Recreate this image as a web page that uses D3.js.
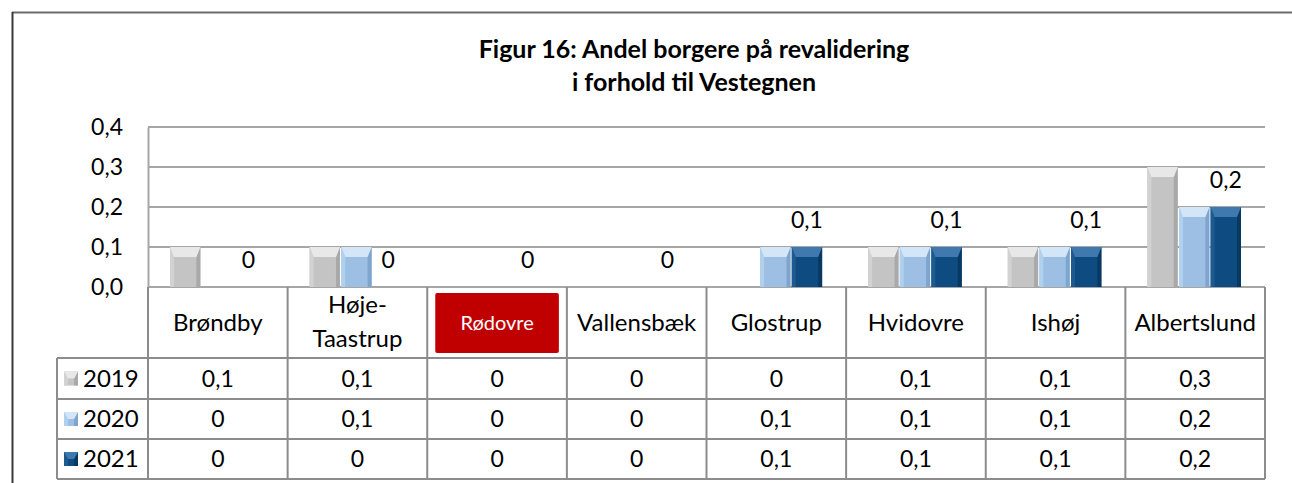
<!DOCTYPE html>
<html>
<head>
<meta charset="utf-8">
<script src="https://cdn.jsdelivr.net/npm/d3@7"></script>
<style>
  body { margin: 0; background: #fff; }
  text { font-family: Lato, "Liberation Sans", Arial, sans-serif; fill: #000; }
</style>
</head>
<body>
<svg id="chart" width="1292" height="483"></svg>
<script>
// data
var categories = ["Brøndby", "Høje-Taastrup", "Rødovre", "Vallensbæk", "Glostrup", "Hvidovre", "Ishøj", "Albertslund"];
var years = ["2019", "2020", "2021"];
var values2019 = [0.1, 0.1, 0, 0, 0, 0.1, 0.1, 0.3];
var values2020 = [0, 0.1, 0, 0, 0.1, 0.1, 0.1, 0.2];
var values2021 = [0, 0, 0, 0, 0.1, 0.1, 0.1, 0.2];
var yTicks = [0, 0.1, 0.2, 0.3, 0.4];
var titleLines = ["Figur 16: Andel borgere på revalidering", "i forhold til Vestegnen"];
var highlight = "Rødovre";

var series = [values2019, values2020, values2021];

// colours for each year: base, top, left, right
var barColors = [
    { base: "#c4c4c4", top: "#e8e8e8", left: "#d2d2d2", right: "#a9a9a9" },
    { base: "#9cbfe3", top: "#d3e6f7", left: "#b1d0ee", right: "#7fa5cf" },
    { base: "#0e4b80", top: "#4079ae", left: "#1c5a90", right: "#083963" }
];

var daLocale = d3.formatLocale({ decimal: ",", thousands: ".", grouping: [3], currency: ["", " kr."] });
var fmt1 = daLocale.format(".1f");
function fmtVal(v) { return v === 0 ? "0" : fmt1(v); }

var svg = d3.select("#chart");

// plot area
var plotLeft = 148, plotRight = 1265, plotTop = 127, plotBottom = 287;
var rowLines = [358, 399, 439, 479];
var legendLeft = 57;

var x0 = d3.scaleBand().domain(categories).range([plotLeft, plotRight]);
var x1 = d3.scaleBand().domain(years).range([22, x0.bandwidth() - 24]).paddingInner(0.04);
var y = d3.scaleLinear().domain([0, 0.4]).range([plotBottom, plotTop]);

// outer frame
svg.append("line").attr("x1", 12).attr("x2", 1292).attr("y1", 12.5).attr("y2", 12.5)
    .attr("stroke", "#6b6b6b").attr("stroke-width", 2);
svg.append("line").attr("x1", 12.5).attr("x2", 12.5).attr("y1", 12).attr("y2", 483)
    .attr("stroke", "#3a3a3a").attr("stroke-width", 2);

// title
svg.append("g").selectAll("text")
    .data(titleLines)
    .enter().append("text")
    .attr("x", 694)
    .attr("y", function(d, i) { return 58 + i * 33; })
    .attr("text-anchor", "middle")
    .style("font-weight", "bold")
    .style("font-size", "25px")
    .text(function(d) { return d; });

// gridlines
svg.append("g").selectAll("line")
    .data(yTicks)
    .enter().append("line")
    .attr("x1", plotLeft).attr("x2", plotRight)
    .attr("y1", function(d) { return y(d); })
    .attr("y2", function(d) { return y(d); })
    .attr("stroke", "#a6a6a6").attr("stroke-width", 2);

// y axis
var yAxis = d3.axisLeft(y).tickValues(yTicks).tickFormat(fmt1).tickSize(0).tickPadding(25);
var yAxisG = svg.append("g").attr("transform", "translate(" + plotLeft + ",0)").call(yAxis);
yAxisG.select(".domain").attr("stroke", "#a6a6a6").attr("stroke-width", 2);
yAxisG.selectAll("text").style("font-size", "23px").style("font-family", "Lato, sans-serif");

// bars with a bevel look
function drawBar(g, bx, by, bw, bh, c) {
    if (bh <= 0) return;
    var bt = Math.min(10, bh / 2), bs = 4;
    g.append("rect").attr("x", bx).attr("y", by).attr("width", bw).attr("height", bh).attr("fill", c.base);
    g.append("polygon").attr("fill", c.left)
        .attr("points", [[bx, by], [bx + bs, by + bt], [bx + bs, by + bh], [bx, by + bh]].join(" "));
    g.append("polygon").attr("fill", c.right)
        .attr("points", [[bx + bw, by], [bx + bw - bs, by + bt], [bx + bw - bs, by + bh], [bx + bw, by + bh]].join(" "));
    g.append("polygon").attr("fill", c.top)
        .attr("points", [[bx, by], [bx + bw, by], [bx + bw - bs, by + bt], [bx + bs, by + bt]].join(" "));
}

var barsG = svg.append("g");
series.forEach(function(vals, si) {
    vals.forEach(function(v, ci) {
        var bx = x0(categories[ci]) + x1(years[si]);
        drawBar(barsG, bx, y(v), x1.bandwidth(), y(0) - y(v), barColors[si]);
    });
});

// data labels for 2021
svg.append("g").selectAll("text")
    .data(values2021)
    .enter().append("text")
    .attr("x", function(d, i) { return x0(categories[i]) + x1("2021") + x1.bandwidth() / 2; })
    .attr("y", function(d) { return y(d) - 19; })
    .attr("text-anchor", "middle")
    .style("font-size", "23px")
    .text(function(d) { return fmtVal(d); });

// table
var tableG = svg.append("g").attr("stroke", "#8c8c8c").attr("stroke-width", 2);
rowLines.forEach(function(ly) {
    tableG.append("line").attr("x1", legendLeft).attr("x2", plotRight).attr("y1", ly).attr("y2", ly);
});
var colEdges = categories.map(function(c) { return x0(c); }).concat([plotRight]);
colEdges.forEach(function(cx) {
    tableG.append("line").attr("x1", cx).attr("x2", cx).attr("y1", plotBottom).attr("y2", rowLines[3]);
});
tableG.append("line").attr("x1", legendLeft).attr("x2", legendLeft).attr("y1", rowLines[0]).attr("y2", rowLines[3]);

// category labels
categories.forEach(function(c) {
    var cx = x0(c) + x0.bandwidth() / 2;
    if (c === highlight) {
        svg.append("rect").attr("x", x0(c) + 8).attr("y", 293).attr("width", x0.bandwidth() - 16).attr("height", 60)
            .attr("rx", 2).attr("fill", "#c00000");
        svg.append("text").attr("x", cx).attr("y", 330).attr("text-anchor", "middle")
            .style("font-size", "20px").style("fill", "#fff").text(c);
    } else if (c.indexOf("-") > 0) {
        var parts = c.split("-");
        svg.append("text").attr("x", cx).attr("y", 313).attr("text-anchor", "middle")
            .style("font-size", "24px").text(parts[0] + "-");
        svg.append("text").attr("x", cx).attr("y", 347).attr("text-anchor", "middle")
            .style("font-size", "24px").text(parts[1]);
    } else {
        svg.append("text").attr("x", cx).attr("y", 331).attr("text-anchor", "middle")
            .style("font-size", "24px").text(c);
    }
});

// table rows: legend key + values
series.forEach(function(vals, si) {
    var rowMid = (rowLines[si] + rowLines[si + 1]) / 2;
    drawBar(svg.append("g"), 64, rowMid - 7, 14, 14, barColors[si]);
    svg.append("text").attr("x", 83).attr("y", rowMid + 8)
        .style("font-size", "24px").text(years[si]);
    svg.append("g").selectAll("text")
        .data(vals)
        .enter().append("text")
        .attr("x", function(d, i) { return x0(categories[i]) + x0.bandwidth() / 2; })
        .attr("y", rowMid + 8)
        .attr("text-anchor", "middle")
        .style("font-size", "23px")
        .text(function(d) { return fmtVal(d); });
});
</script>
</body>
</html>
